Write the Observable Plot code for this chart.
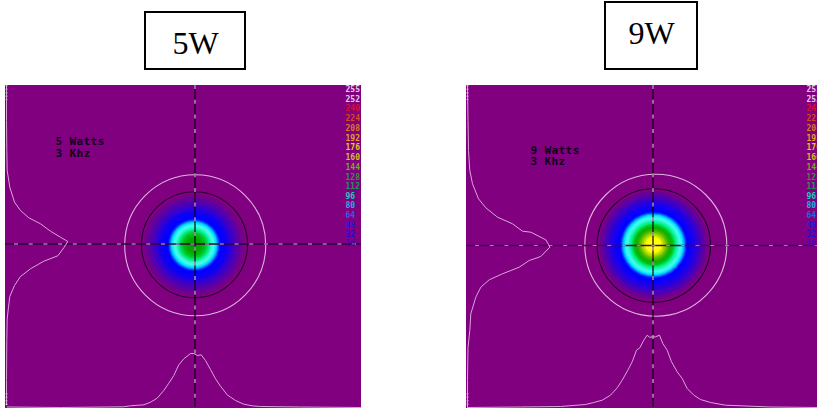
<!DOCTYPE html>
<html><head><meta charset="utf-8">
<style>html,body{margin:0;padding:0;background:#fff}svg{display:block}.notes text{letter-spacing:.4px}</style>
<script src="https://cdn.jsdelivr.net/npm/d3@7"></script>
<script src="https://cdn.jsdelivr.net/npm/@observablehq/plot@0.6"></script>
</head><body><div id="chart"></div>
<script>
const titles = [
  {label:"5W", x1:145, x2:245, y1:12, y2:69, tx:195, ty:43},
  {label:"9W", x1:605, x2:697, y1:2, y2:69, tx:651, ty:33.5}
];
const panels = [
  {x1:5, x2:361, y1:85, y2:408},
  {x1:466, x2:817, y1:85, y2:408}
];
const crossH = [
  {x1:5, x2:361, y:243.5, line:"#300040", dash:"#dcb0dc"},
  {x1:466, x2:817, y:245, line:"#48005a", dash:"#b878c0"}
];
const crossV = [
  {x:194.5, y1:85, y2:407},
  {x:652.5, y1:85, y2:407}
];
const edgeTicks = [
  {x:6, y1:85, y2:100},
  {x:6, y1:393, y2:405},
  {x:467, y1:85, y2:100},
  {x:467, y1:393, y2:405}
];
const notes = [
  {text:"5 Watts", x:55, y:141},
  {text:"3 Khz", x:55, y:153},
  {text:"9 Watts", x:530, y:149.5},
  {text:"3 Khz", x:530, y:161}
];
const levels = ["255","252","240","224","208","192","176","160","144","128","112","96","80","64","48","32","16"];
const levelColors = ["#e8c8e8","#e8c8e8","#d81030","#d84818","#d87820","#e0a028","#e0c820","#d0c018","#78a820","#309040","#209060","#20c8c0","#20b0e8","#1868e8","#1020e8","#2808d8","#4000c0"];
const levelRows = [89,98.5,108,118,128,137.5,147,157,167,176.5,186,195.5,205,215,224.5,234,243];
const legendX = [345, 806];

const rings = [
  {x:194.7, y:244.7, r:70.5, stroke:"#dcb4dc"},
  {x:194, y:244.2, r:53, stroke:"#200030"},
  {x:655.3, y:244.7, r:71, stroke:"#dcb4dc"},
  {x:653.3, y:245, r:56.7, stroke:"#200030"}
];
const beam5 = {x:193.5, y:244.5,
  r:[53,50,47,44,41,38,35,32,29,26.5,25.3,24.2,23.2,22,20.5,19,17.5,16,14.5,13,11,8,4],
  c:["#800080","#72008e","#62009e","#5200b0","#4000c4","#2c00d8","#1600ec","#0800f8","#0000ff","#0010ff","#0050ff","#0090ff","#00d0ff","#10f0f0","#48f8ec","#40f8e0","#20f8c0","#00f090","#00e060","#00cc30","#00b810","#00a800","#08a000"]};
const beam9 = {x:653, y:244.5,
  r:[57,54,51,48,45,42,39,36,34,32.8,31.6,30.4,29,27.5,26,24.5,23,21.5,20,18,16,14,12,10,8,5],
  c:["#800080","#6c0094","#5800a8","#4400c0","#2e00d8","#1c00ec","#0c00f8","#0000ff","#0008ff","#0040ff","#0090ff","#00d8ff","#20f4f0","#48f8ec","#30f8d8","#10f8b0","#00f080","#00d840","#00c018","#10b000","#30b400","#60c000","#a0d400","#d8e800","#ffff00","#ffff20"]};

const prof5LeftX = [6,6,6.3,6.7,9.3,14,20,28.3,40,50,60,67.3,63.3,57.3,43.3,30,20,14,9.3,8,6.7,6.3,6,6];
const prof5LeftY = [85,120,150,170,186.7,201.7,210,217.3,223.3,230.7,236.7,241,247.3,255.3,260.7,268.3,276,285,296,306.7,318.3,340,380,403];
const prof5BottomX = [6.7,60,123,130,143.3,150,156.7,163.3,168.3,173.3,178.3,183.3,190,193.3,196.7,200.7,205,210,215,220,226.7,235,243.3,251.7,260,300,360];
const prof5BottomY = [406.5,407,406.3,405.3,404.3,401.7,397.7,390,382.7,375,364.3,358.3,353,353,355,354.3,360,369,378.3,385.7,394.3,400,403.7,405.3,406,406.5,407];
const prof9LeftX = [467,467.5,468,469.3,472,478,485.3,497,512,522,530.3,545.3,548,549.3,540.3,528.7,518.7,502,488.7,480.3,475.3,470.3,469.3,467.5,467,467];
const prof9LeftY = [85,120,150,170,183.3,198.3,207.3,216.7,223.3,230.7,231.7,239.3,244,246.7,256,260,266.7,273.3,279.3,286.7,296.7,313.3,330,347,380,407];
const prof9BottomX = [468,520,560,585,593.3,601.7,610,616.7,621.7,627.3,631.7,636,639.3,643.3,646.7,649,655,659,662.3,666.7,671,676.7,681.7,686.7,693.3,700,710,725,770,817];
const prof9BottomY = [407,406.5,406,404,402,399.7,394.7,387.3,379.7,369.7,361.3,349.7,347.3,339.7,334.7,336.7,336.3,334.7,343,349.7,361.3,371.3,378,388,394.7,399,402,404.7,406.5,407];

const zip = (xs, ys) => xs.map((x, i) => ({x, y: ys[i]}));
const beamRows = b => b.r.map((r, i) => ({x:b.x, y:b.y, r, c:b.c[i]}));
const legendRows = legendX.flatMap(x => levels.map((t, i) => ({x, y:levelRows[i], t, c:levelColors[i]})));
const profiles = [zip(prof5LeftX,prof5LeftY), zip(prof5BottomX,prof5BottomY), zip(prof9LeftX,prof9LeftY), zip(prof9BottomX,prof9BottomY)];
const profileColor = "#d8a8d8";

const chart = Plot.plot({
  width:817, height:410, margin:0,
  x:{domain:[0,817], axis:null},
  y:{domain:[410,0], axis:null},
  r:{type:"linear", domain:[0,100], range:[0,100]},
  marks:[
    Plot.rect(panels,{x1:"x1",x2:"x2",y1:"y1",y2:"y2",fill:"#800080"}),
    Plot.dot(beamRows(beam5),{x:"x",y:"y",r:"r",fill:"c"}),
    Plot.dot(beamRows(beam9),{x:"x",y:"y",r:"r",fill:"c"}),
    Plot.dot(rings,{x:"x",y:"y",r:"r",stroke:"stroke",strokeWidth:1.1,fill:"none"}),
    Plot.ruleY(crossH,{x1:"x1",x2:"x2",y:"y",stroke:"line",strokeWidth:1.4}),
    Plot.ruleX(crossV,{x:"x",y1:"y1",y2:"y2",stroke:"#100010",strokeWidth:1.2}),
    Plot.ruleY(crossH,{x1:"x1",x2:"x2",y:"y",stroke:"dash",strokeWidth:1.2,strokeDasharray:"4,10.7",strokeDashoffset:5.7}),
    Plot.ruleX(crossV,{x:"x",y1:"y1",y2:"y2",stroke:"#dcb0dc",strokeWidth:1.2,strokeDasharray:"4,10.7"}),
    Plot.ruleX(edgeTicks,{x:"x",y1:"y1",y2:"y2",stroke:"#fff",strokeWidth:1.5,strokeDasharray:"1.5,2"}),
    ...profiles.map(p => Plot.line(p,{x:"x",y:"y",stroke:profileColor,strokeWidth:1,curve:"linear"})),
    Plot.text(notes,{x:"x",y:"y",text:"text",textAnchor:"start",fill:"#100018",fontFamily:"DejaVu Sans Mono",fontWeight:"bold",fontSize:11,className:"notes"}),
    Plot.text(legendRows,{x:"x",y:"y",text:"t",textAnchor:"start",fill:"c",fontFamily:"DejaVu Sans Mono",fontWeight:"bold",fontSize:8}),
    Plot.rect(titles,{x1:"x1",x2:"x2",y1:"y1",y2:"y2",fill:"#fff",stroke:"#000",strokeWidth:2}),
    Plot.text(titles,{x:"tx",y:"ty",text:"label",fill:"#000",fontFamily:"Liberation Serif",fontSize:32})
  ]
});
document.getElementById("chart").append(chart);
</script></body></html>
